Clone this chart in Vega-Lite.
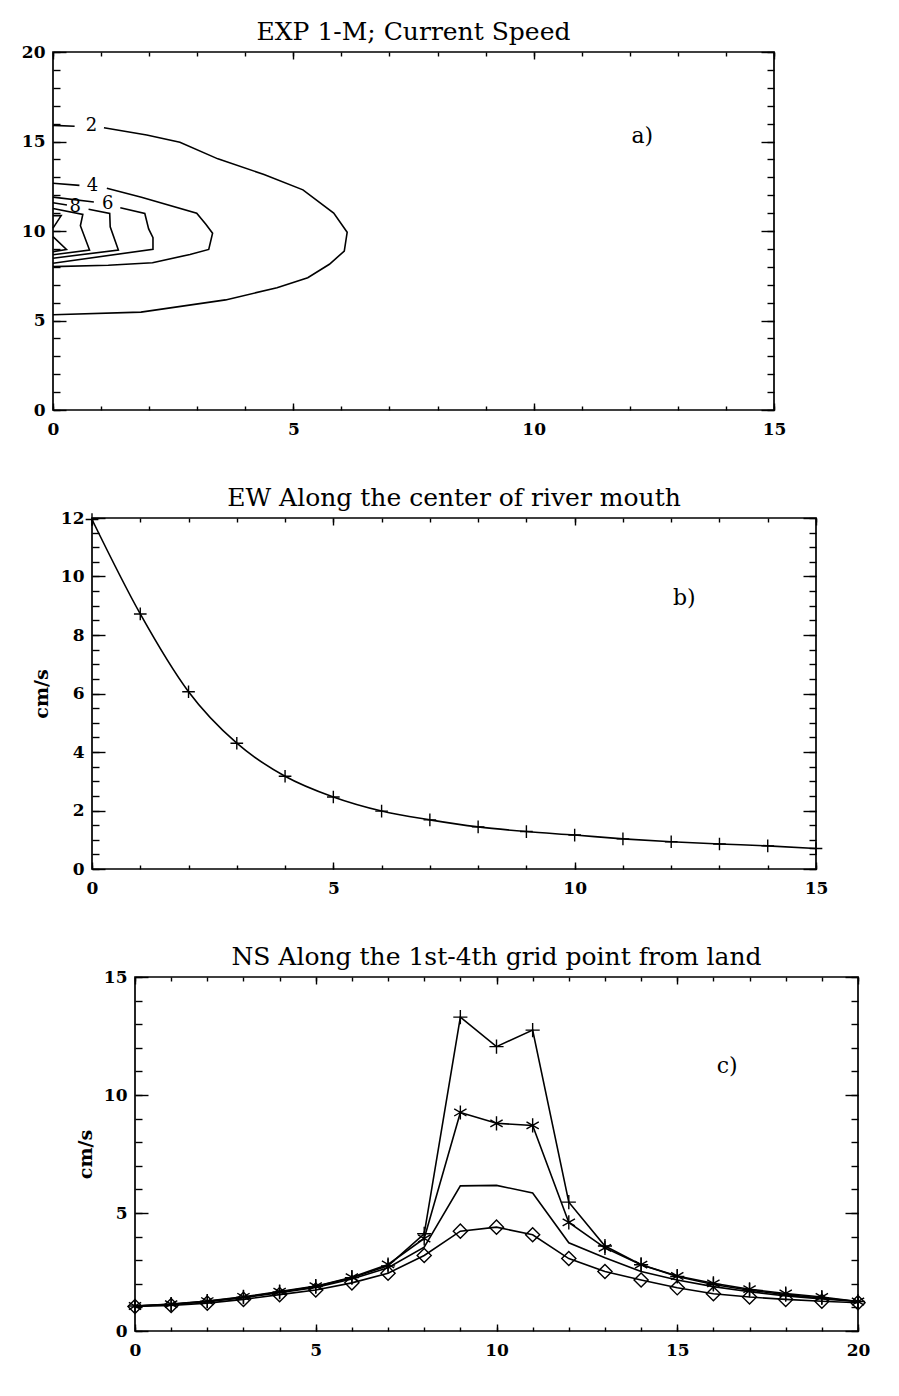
{
  "$schema": "https://vega.github.io/schema/vega-lite/v6.json",
  "background": "white",
  "padding": {"left": 10, "top": 19, "right": 5, "bottom": 5},
  "config": {
    "view": {"stroke": "black", "strokeWidth": 1.7},
    "font": "DejaVu Serif",
    "title": {"font": "DejaVu Serif", "fontSize": 25, "fontWeight": "normal", "color": "black", "offset": -2, "frame": "group", "anchor": "middle"},
    "axis": {
      "grid": false, "domain": false, "minExtent": 0, "labelFlush": false,
      "labelFont": "DejaVu Serif", "labelFontSize": 17, "labelFontWeight": "bold", "labelColor": "black",
      "tickColor": "black", "tickWidth": 1.4,
      "titleFont": "DejaVu Serif", "titleColor": "black", "titleFontWeight": "bold", "titleFontSize": 19
    }
  },
  "datasets": {
    "contours": [
      {"level": 2, "seg": "2a", "ord": 0, "x": 0, "y": 15.9},
      {"level": 2, "seg": "2a", "ord": 1, "x": 0.45, "y": 15.85},
      {"level": 2, "seg": "2b", "ord": 0, "x": 1.06, "y": 15.77},
      {"level": 2, "seg": "2b", "ord": 1, "x": 1.95, "y": 15.36},
      {"level": 2, "seg": "2b", "ord": 2, "x": 2.64, "y": 14.96},
      {"level": 2, "seg": "2b", "ord": 3, "x": 3.43, "y": 14.03},
      {"level": 2, "seg": "2b", "ord": 4, "x": 4.39, "y": 13.16},
      {"level": 2, "seg": "2b", "ord": 5, "x": 5.2, "y": 12.3},
      {"level": 2, "seg": "2b", "ord": 6, "x": 5.84, "y": 11.0},
      {"level": 2, "seg": "2b", "ord": 7, "x": 6.12, "y": 9.93},
      {"level": 2, "seg": "2b", "ord": 8, "x": 6.06, "y": 8.88},
      {"level": 2, "seg": "2b", "ord": 9, "x": 5.75, "y": 8.14},
      {"level": 2, "seg": "2b", "ord": 10, "x": 5.3, "y": 7.39},
      {"level": 2, "seg": "2b", "ord": 11, "x": 4.66, "y": 6.83},
      {"level": 2, "seg": "2b", "ord": 12, "x": 3.59, "y": 6.15},
      {"level": 2, "seg": "2b", "ord": 13, "x": 1.83, "y": 5.47},
      {"level": 2, "seg": "2b", "ord": 14, "x": 0, "y": 5.32},
      {"level": 4, "seg": "4a", "ord": 0, "x": 0, "y": 12.67},
      {"level": 4, "seg": "4a", "ord": 1, "x": 0.55, "y": 12.55},
      {"level": 4, "seg": "4b", "ord": 0, "x": 1.12, "y": 12.39},
      {"level": 4, "seg": "4b", "ord": 1, "x": 1.84, "y": 11.88},
      {"level": 4, "seg": "4b", "ord": 2, "x": 2.99, "y": 10.99},
      {"level": 4, "seg": "4b", "ord": 3, "x": 3.18, "y": 10.38},
      {"level": 4, "seg": "4b", "ord": 4, "x": 3.32, "y": 9.88},
      {"level": 4, "seg": "4b", "ord": 5, "x": 3.24, "y": 8.97},
      {"level": 4, "seg": "4b", "ord": 6, "x": 2.85, "y": 8.69},
      {"level": 4, "seg": "4b", "ord": 7, "x": 2.07, "y": 8.23},
      {"level": 4, "seg": "4b", "ord": 8, "x": 1.15, "y": 8.09},
      {"level": 4, "seg": "4b", "ord": 9, "x": 0, "y": 8.01},
      {"level": 6, "seg": "6a", "ord": 0, "x": 0, "y": 11.89},
      {"level": 6, "seg": "6a", "ord": 1, "x": 0.85, "y": 11.62},
      {"level": 6, "seg": "6b", "ord": 0, "x": 1.4, "y": 11.3},
      {"level": 6, "seg": "6b", "ord": 1, "x": 1.91, "y": 10.98},
      {"level": 6, "seg": "6b", "ord": 2, "x": 1.99, "y": 10.12},
      {"level": 6, "seg": "6b", "ord": 3, "x": 2.08, "y": 9.63},
      {"level": 6, "seg": "6b", "ord": 4, "x": 2.08, "y": 8.98},
      {"level": 6, "seg": "6b", "ord": 5, "x": 0, "y": 8.2},
      {"level": 8, "seg": "8a", "ord": 0, "x": 0, "y": 11.58},
      {"level": 8, "seg": "8a", "ord": 1, "x": 0.29, "y": 11.45},
      {"level": 8, "seg": "8b", "ord": 0, "x": 0.74, "y": 11.22},
      {"level": 8, "seg": "8b", "ord": 1, "x": 1.18, "y": 10.98},
      {"level": 8, "seg": "8b", "ord": 2, "x": 1.19, "y": 10.23},
      {"level": 8, "seg": "8b", "ord": 3, "x": 1.36, "y": 8.94},
      {"level": 8, "seg": "8b", "ord": 4, "x": 0, "y": 8.48},
      {"level": 10, "seg": "10", "ord": 0, "x": 0, "y": 11.26},
      {"level": 10, "seg": "10", "ord": 1, "x": 0.62, "y": 10.93},
      {"level": 10, "seg": "10", "ord": 2, "x": 0.57, "y": 10.29},
      {"level": 10, "seg": "10", "ord": 3, "x": 0.76, "y": 8.94},
      {"level": 10, "seg": "10", "ord": 4, "x": 0, "y": 8.67},
      {"level": 12, "seg": "12a", "ord": 0, "x": 0, "y": 10.86},
      {"level": 12, "seg": "12a", "ord": 1, "x": 0.17, "y": 10.86},
      {"level": 12, "seg": "12a", "ord": 2, "x": 0, "y": 10.16},
      {"level": 12, "seg": "12b", "ord": 0, "x": 0, "y": 9.69},
      {"level": 12, "seg": "12b", "ord": 1, "x": 0.28, "y": 8.97},
      {"level": 12, "seg": "12b", "ord": 2, "x": 0, "y": 8.85}
    ],
    "contourLabels": [
      {"label": "2", "x": 0.8, "y": 15.85},
      {"label": "4", "x": 0.82, "y": 12.51},
      {"label": "6", "x": 1.14, "y": 11.49},
      {"label": "8", "x": 0.46, "y": 11.35}
    ],
    "ew": [
      {"x": 0, "speed": 11.95}, {"x": 1, "speed": 8.72}, {"x": 2, "speed": 6.06}, {"x": 3, "speed": 4.3},
      {"x": 4, "speed": 3.17}, {"x": 5, "speed": 2.46}, {"x": 6, "speed": 1.98}, {"x": 7, "speed": 1.68},
      {"x": 8, "speed": 1.44}, {"x": 9, "speed": 1.28}, {"x": 10, "speed": 1.16}, {"x": 11, "speed": 1.03},
      {"x": 12, "speed": 0.93}, {"x": 13, "speed": 0.855}, {"x": 14, "speed": 0.79}, {"x": 15, "speed": 0.7}
    ],
    "ns": [
      {"pt": "1st", "x": 0, "speed": 1.06}, {"pt": "1st", "x": 1, "speed": 1.13}, {"pt": "1st", "x": 2, "speed": 1.26},
      {"pt": "1st", "x": 3, "speed": 1.43}, {"pt": "1st", "x": 4, "speed": 1.65}, {"pt": "1st", "x": 5, "speed": 1.88},
      {"pt": "1st", "x": 6, "speed": 2.26}, {"pt": "1st", "x": 7, "speed": 2.76}, {"pt": "1st", "x": 8, "speed": 4.12},
      {"pt": "1st", "x": 9, "speed": 13.3}, {"pt": "1st", "x": 10, "speed": 12.05}, {"pt": "1st", "x": 11, "speed": 12.75},
      {"pt": "1st", "x": 12, "speed": 5.46}, {"pt": "1st", "x": 13, "speed": 3.6}, {"pt": "1st", "x": 14, "speed": 2.81},
      {"pt": "1st", "x": 15, "speed": 2.31}, {"pt": "1st", "x": 16, "speed": 1.97}, {"pt": "1st", "x": 17, "speed": 1.73},
      {"pt": "1st", "x": 18, "speed": 1.54}, {"pt": "1st", "x": 19, "speed": 1.4}, {"pt": "1st", "x": 20, "speed": 1.25},
      {"pt": "2nd", "x": 0, "speed": 1.06}, {"pt": "2nd", "x": 1, "speed": 1.14}, {"pt": "2nd", "x": 2, "speed": 1.27},
      {"pt": "2nd", "x": 3, "speed": 1.45}, {"pt": "2nd", "x": 4, "speed": 1.67}, {"pt": "2nd", "x": 5, "speed": 1.9},
      {"pt": "2nd", "x": 6, "speed": 2.28}, {"pt": "2nd", "x": 7, "speed": 2.82}, {"pt": "2nd", "x": 8, "speed": 3.92},
      {"pt": "2nd", "x": 9, "speed": 9.26}, {"pt": "2nd", "x": 10, "speed": 8.8}, {"pt": "2nd", "x": 11, "speed": 8.71},
      {"pt": "2nd", "x": 12, "speed": 4.6}, {"pt": "2nd", "x": 13, "speed": 3.52}, {"pt": "2nd", "x": 14, "speed": 2.81},
      {"pt": "2nd", "x": 15, "speed": 2.33}, {"pt": "2nd", "x": 16, "speed": 2.02}, {"pt": "2nd", "x": 17, "speed": 1.77},
      {"pt": "2nd", "x": 18, "speed": 1.59}, {"pt": "2nd", "x": 19, "speed": 1.44}, {"pt": "2nd", "x": 20, "speed": 1.25},
      {"pt": "3rd", "x": 0, "speed": 1.06}, {"pt": "3rd", "x": 1, "speed": 1.12}, {"pt": "3rd", "x": 2, "speed": 1.24},
      {"pt": "3rd", "x": 3, "speed": 1.41}, {"pt": "3rd", "x": 4, "speed": 1.62}, {"pt": "3rd", "x": 5, "speed": 1.84},
      {"pt": "3rd", "x": 6, "speed": 2.2}, {"pt": "3rd", "x": 7, "speed": 2.68}, {"pt": "3rd", "x": 8, "speed": 3.55},
      {"pt": "3rd", "x": 9, "speed": 6.15}, {"pt": "3rd", "x": 10, "speed": 6.17}, {"pt": "3rd", "x": 11, "speed": 5.85},
      {"pt": "3rd", "x": 12, "speed": 3.74}, {"pt": "3rd", "x": 13, "speed": 3.1}, {"pt": "3rd", "x": 14, "speed": 2.52},
      {"pt": "3rd", "x": 15, "speed": 2.16}, {"pt": "3rd", "x": 16, "speed": 1.88}, {"pt": "3rd", "x": 17, "speed": 1.66},
      {"pt": "3rd", "x": 18, "speed": 1.49}, {"pt": "3rd", "x": 19, "speed": 1.36}, {"pt": "3rd", "x": 20, "speed": 1.25},
      {"pt": "4th", "x": 0, "speed": 1.04}, {"pt": "4th", "x": 1, "speed": 1.08}, {"pt": "4th", "x": 2, "speed": 1.18},
      {"pt": "4th", "x": 3, "speed": 1.34}, {"pt": "4th", "x": 4, "speed": 1.54}, {"pt": "4th", "x": 5, "speed": 1.74},
      {"pt": "4th", "x": 6, "speed": 2.04}, {"pt": "4th", "x": 7, "speed": 2.45}, {"pt": "4th", "x": 8, "speed": 3.2},
      {"pt": "4th", "x": 9, "speed": 4.23}, {"pt": "4th", "x": 10, "speed": 4.4}, {"pt": "4th", "x": 11, "speed": 4.08},
      {"pt": "4th", "x": 12, "speed": 3.07}, {"pt": "4th", "x": 13, "speed": 2.52}, {"pt": "4th", "x": 14, "speed": 2.16},
      {"pt": "4th", "x": 15, "speed": 1.83}, {"pt": "4th", "x": 16, "speed": 1.58}, {"pt": "4th", "x": 17, "speed": 1.44},
      {"pt": "4th", "x": 18, "speed": 1.34}, {"pt": "4th", "x": 19, "speed": 1.26}, {"pt": "4th", "x": 20, "speed": 1.2}
    ]
  },
  "vconcat": [
    {
      "spacing": 0,
      "hconcat": [
        {"width": 10, "height": 4, "view": {"stroke": null}, "data": {"values": [{"gap": 0}]}, "mark": {"type": "point", "opacity": 0}, "encoding": {}},
        {
          "width": 721, "height": 358,
          "title": {"text": "EXP 1-M; Current Speed"},
          "resolve": {"axis": {"x": "independent", "y": "independent"}},
          "layer": [
            {
              "data": {"name": "contours"},
              "mark": {"type": "line", "color": "black", "strokeWidth": 1.6},
              "encoding": {
                "x": {"field": "x", "type": "quantitative", "scale": {"domain": [0, 15], "nice": false, "zero": false},
                      "axis": {"orient": "bottom", "values": [0, 5, 10, 15], "tickSize": -7, "labelPadding": 18, "title": null, "labelFlush": false}},
                "y": {"field": "y", "type": "quantitative", "scale": {"domain": [0, 20], "nice": false, "zero": false},
                      "axis": {"orient": "left", "values": [0, 5, 10, 15, 20], "tickSize": -13, "labelPadding": 21, "title": null}},
                "detail": {"field": "seg"},
                "order": {"field": "ord"}
              }
            },
            {
              "data": {"name": "contourLabels"},
              "mark": {"type": "text", "font": "DejaVu Serif", "fontSize": 18, "color": "black", "align": "center", "baseline": "middle"},
              "encoding": {
                "x": {"field": "x", "type": "quantitative", "scale": {"domain": [0, 15], "nice": false, "zero": false},
                      "axis": {"orient": "bottom", "values": [0,1,2,3,4,5,6,7,8,9,10,11,12,13,14,15], "tickSize": -4, "labels": false, "title": null}},
                "y": {"field": "y", "type": "quantitative", "scale": {"domain": [0, 20], "nice": false, "zero": false},
                      "axis": {"orient": "left", "values": [0,1,2,3,4,5,6,7,8,9,10,11,12,13,14,15,16,17,18,19,20], "tickSize": -7, "labels": false, "title": null}},
                "text": {"field": "label"}
              }
            },
            {
              "data": {"values": [{"tag": "a)", "x": 12.26, "y": 15.32}]},
              "mark": {"type": "text", "font": "DejaVu Serif", "fontSize": 22, "color": "black", "align": "center", "baseline": "middle"},
              "encoding": {
                "x": {"field": "x", "type": "quantitative", "scale": {"domain": [0, 15], "nice": false, "zero": false},
                      "axis": {"orient": "top", "values": [0, 5, 10, 15], "tickSize": -7, "labels": false, "title": null}},
                "y": {"field": "y", "type": "quantitative", "scale": {"domain": [0, 20], "nice": false, "zero": false},
                      "axis": {"orient": "right", "values": [0, 5, 10, 15, 20], "tickSize": -13, "labels": false, "title": null}},
                "text": {"field": "tag"}
              }
            },
            {
              "data": {"name": "contours"},
              "mark": {"type": "point", "opacity": 0},
              "encoding": {
                "x": {"field": "x", "type": "quantitative", "scale": {"domain": [0, 15], "nice": false, "zero": false},
                      "axis": {"orient": "top", "values": [0,1,2,3,4,5,6,7,8,9,10,11,12,13,14,15], "tickSize": -4, "labels": false, "title": null}},
                "y": {"field": "y", "type": "quantitative", "scale": {"domain": [0, 20], "nice": false, "zero": false},
                      "axis": {"orient": "right", "values": [0,1,2,3,4,5,6,7,8,9,10,11,12,13,14,15,16,17,18,19,20], "tickSize": -7, "labels": false, "title": null}}
              }
            }
          ]
        }
      ]
    },
    {
      "spacing": 0,
      "hconcat": [
        {"width": 21, "height": 4, "view": {"stroke": null}, "data": {"values": [{"gap": 0}]}, "mark": {"type": "point", "opacity": 0}, "encoding": {}},
        {
          "width": 724, "height": 351,
          "title": {"text": "EW Along the center of river mouth"},
          "resolve": {"axis": {"x": "independent", "y": "independent"}},
          "layer": [
            {
              "data": {"name": "ew"},
              "mark": {"type": "line", "color": "black", "strokeWidth": 1.6, "interpolate": "monotone"},
              "encoding": {
                "x": {"field": "x", "type": "quantitative", "scale": {"domain": [0, 15], "nice": false, "zero": false},
                      "axis": {"orient": "bottom", "values": [0, 5, 10, 15], "tickSize": -7, "labelPadding": 18, "title": null, "labelFlush": false}},
                "y": {"field": "speed", "type": "quantitative", "scale": {"domain": [0, 12], "nice": false, "zero": false},
                      "axis": {"orient": "left", "values": [0, 2, 4, 6, 8, 10, 12], "tickSize": -13, "labelPadding": 21, "title": "cm/s", "titlePadding": 9}}
              }
            },
            {
              "data": {"name": "ew"},
              "mark": {"type": "point", "shape": "M-1,0L1,0M0,-1L0,1", "filled": false, "stroke": "black", "strokeWidth": 1.4, "size": 160, "opacity": 1},
              "encoding": {
                "x": {"field": "x", "type": "quantitative", "scale": {"domain": [0, 15], "nice": false, "zero": false},
                      "axis": {"orient": "bottom", "values": [0,1,2,3,4,5,6,7,8,9,10,11,12,13,14,15], "tickSize": -4, "labels": false, "title": null}},
                "y": {"field": "speed", "type": "quantitative", "scale": {"domain": [0, 12], "nice": false, "zero": false},
                      "axis": {"orient": "left", "values": [0,0.5,1,1.5,2,2.5,3,3.5,4,4.5,5,5.5,6,6.5,7,7.5,8,8.5,9,9.5,10,10.5,11,11.5,12], "tickSize": -7, "labels": false, "title": null}}
              }
            },
            {
              "data": {"values": [{"tag": "b)", "x": 12.27, "y": 9.28}]},
              "mark": {"type": "text", "font": "DejaVu Serif", "fontSize": 22, "color": "black", "align": "center", "baseline": "middle"},
              "encoding": {
                "x": {"field": "x", "type": "quantitative", "scale": {"domain": [0, 15], "nice": false, "zero": false},
                      "axis": {"orient": "top", "values": [0, 5, 10, 15], "tickSize": -7, "labels": false, "title": null}},
                "y": {"field": "y", "type": "quantitative", "scale": {"domain": [0, 12], "nice": false, "zero": false},
                      "axis": {"orient": "right", "values": [0, 2, 4, 6, 8, 10, 12], "tickSize": -13, "labels": false, "title": null}},
                "text": {"field": "tag"}
              }
            },
            {
              "data": {"name": "ew"},
              "mark": {"type": "point", "opacity": 0},
              "encoding": {
                "x": {"field": "x", "type": "quantitative", "scale": {"domain": [0, 15], "nice": false, "zero": false},
                      "axis": {"orient": "top", "values": [0,1,2,3,4,5,6,7,8,9,10,11,12,13,14,15], "tickSize": -4, "labels": false, "title": null}},
                "y": {"field": "speed", "type": "quantitative", "scale": {"domain": [0, 12], "nice": false, "zero": false},
                      "axis": {"orient": "right", "values": [0,0.5,1,1.5,2,2.5,3,3.5,4,4.5,5,5.5,6,6.5,7,7.5,8,8.5,9,9.5,10,10.5,11,11.5,12], "tickSize": -7, "labels": false, "title": null}}
              }
            }
          ]
        }
      ]
    },
    {
      "spacing": 0,
      "hconcat": [
        {"width": 65, "height": 4, "view": {"stroke": null}, "data": {"values": [{"gap": 0}]}, "mark": {"type": "point", "opacity": 0}, "encoding": {}},
        {
          "width": 723, "height": 354,
          "title": {"text": "NS Along the 1st-4th grid point from land"},
          "resolve": {"axis": {"x": "independent", "y": "independent"}},
          "layer": [
            {
              "data": {"name": "ns"},
              "mark": {"type": "line", "color": "black", "strokeWidth": 1.6},
              "encoding": {
                "x": {"field": "x", "type": "quantitative", "scale": {"domain": [0, 20], "nice": false, "zero": false},
                      "axis": {"orient": "bottom", "values": [0, 5, 10, 15, 20], "tickSize": -7, "labelPadding": 18, "title": null, "labelFlush": false}},
                "y": {"field": "speed", "type": "quantitative", "scale": {"domain": [0, 15], "nice": false, "zero": false},
                      "axis": {"orient": "left", "values": [0, 5, 10, 15], "tickSize": -13, "labelPadding": 21, "title": "cm/s", "titlePadding": 8}},
                "detail": {"field": "pt"}
              }
            },
            {
              "data": {"name": "ns"},
              "transform": [{"filter": "datum.pt !== '3rd'"}],
              "mark": {"type": "point", "filled": false, "stroke": "black", "strokeWidth": 1.4, "size": 200, "opacity": 1},
              "encoding": {
                "x": {"field": "x", "type": "quantitative", "scale": {"domain": [0, 20], "nice": false, "zero": false},
                      "axis": {"orient": "bottom", "values": [0,1,2,3,4,5,6,7,8,9,10,11,12,13,14,15,16,17,18,19,20], "tickSize": -4, "labels": false, "title": null}},
                "y": {"field": "speed", "type": "quantitative", "scale": {"domain": [0, 15], "nice": false, "zero": false},
                      "axis": {"orient": "left", "values": [0,1,2,3,4,5,6,7,8,9,10,11,12,13,14,15], "tickSize": -7, "labels": false, "title": null}},
                "shape": {"field": "pt", "type": "nominal", "legend": null,
                          "scale": {"domain": ["1st", "2nd", "4th"], "range": ["M-1,0L1,0M0,-1L0,1", "M0,-1L0,1M-0.87,-0.5L0.87,0.5M-0.87,0.5L0.87,-0.5", "diamond"]}}
              }
            },
            {
              "data": {"values": [{"tag": "c)", "x": 16.38, "y": 11.24}]},
              "mark": {"type": "text", "font": "DejaVu Serif", "fontSize": 22, "color": "black", "align": "center", "baseline": "middle"},
              "encoding": {
                "x": {"field": "x", "type": "quantitative", "scale": {"domain": [0, 20], "nice": false, "zero": false},
                      "axis": {"orient": "top", "values": [0, 5, 10, 15, 20], "tickSize": -7, "labels": false, "title": null}},
                "y": {"field": "y", "type": "quantitative", "scale": {"domain": [0, 15], "nice": false, "zero": false},
                      "axis": {"orient": "right", "values": [0, 5, 10, 15], "tickSize": -13, "labels": false, "title": null}},
                "text": {"field": "tag"}
              }
            },
            {
              "data": {"name": "ns"},
              "mark": {"type": "point", "opacity": 0},
              "encoding": {
                "x": {"field": "x", "type": "quantitative", "scale": {"domain": [0, 20], "nice": false, "zero": false},
                      "axis": {"orient": "top", "values": [0,1,2,3,4,5,6,7,8,9,10,11,12,13,14,15,16,17,18,19,20], "tickSize": -4, "labels": false, "title": null}},
                "y": {"field": "speed", "type": "quantitative", "scale": {"domain": [0, 15], "nice": false, "zero": false},
                      "axis": {"orient": "right", "values": [0,1,2,3,4,5,6,7,8,9,10,11,12,13,14,15], "tickSize": -7, "labels": false, "title": null}}
              }
            }
          ]
        }
      ]
    }
  ],
  "spacing": 47
}
